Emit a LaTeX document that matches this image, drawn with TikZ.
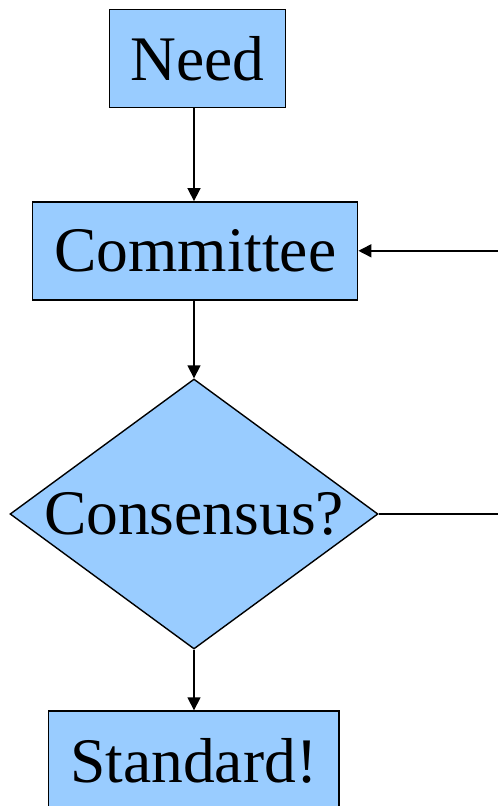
\documentclass[tikz,border=0pt]{standalone}
\usepackage{fontspec}
\newfontfamily\fcfont{LiberationSerif}[Extension=.ttf, UprightFont=*-Regular]
\usepackage{tikz}
\usetikzlibrary{shapes.geometric, arrows.meta}
\definecolor{fcblue}{RGB}{153,204,255}
\tikzset{
  fcbox/.style={rectangle, draw, fill=fcblue, line width=1.4pt,
                inner sep=0pt, font=\fcfont\fontsize{63.5pt}{70pt}\selectfont},
  fcdecision/.style={diamond, draw, fill=fcblue, line width=1.4pt,
                     inner sep=0pt, font=\fcfont\fontsize{63.5pt}{70pt}\selectfont},
  fclink/.style={draw, line width=1.6pt},
  fcarrow/.style={fclink, -{Triangle[length=13pt, width=13pt]}}
}

\begin{document}
\begin{tikzpicture}[
    x=1pt, y=-1pt
]
  \useasboundingbox (0, 0) rectangle (498, 806);
  \node[fcbox, minimum width=176pt, minimum height=98pt]
    (need) at (197.3, 58.3) {Need};
  \node[fcbox, minimum width=325pt, minimum height=98pt]
    (comm) at (195.2, 250.8) {Committee};
  \node[fcdecision, minimum width=368pt, minimum height=270pt]
    (cons) at (194, 514) {\makebox[0pt]{Consensus?}};
  \node[fcbox, minimum width=290.7pt, minimum height=100pt]
    (std) at (193.7, 761) {Standard!};
  % the loop back enters and leaves past the right edge
  \coordinate (backin)  at (498, 250.8);
  \coordinate (backout) at (498, 514);
  \draw[fcarrow] (need.south -| cons.north) -- (comm.north -| cons.north);
  \draw[fcarrow] (comm.south -| cons.north) -- (cons.north);
  \draw[fcarrow] (cons.south) -- (std.north -| cons.south);
  \draw[fcarrow] (backin) -- (comm.east);
  \draw[fclink] (cons.east) -- (backout);
\end{tikzpicture}
\end{document}
